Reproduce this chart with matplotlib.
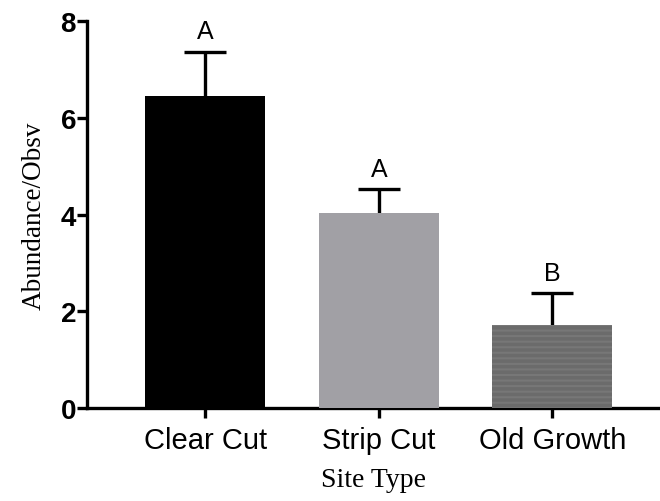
import numpy as np
import matplotlib
matplotlib.use("Agg")
import matplotlib.pyplot as plt

plt.rcParams['hatch.linewidth'] = 1.5

sites = ['Clear Cut', 'Strip Cut', 'Old Growth']
abundance = [6.45, 4.03, 1.72]
sem = [0.92, 0.50, 0.66]
letters = ['A', 'A', 'B']
bar_colors = ['#000000', '#a1a0a5', '#6b6b6b']

fig = plt.figure(figsize=(6.6, 5.02), dpi=100)
ax = fig.add_axes([0.132, 0.185, 0.868, 0.771])

x = np.arange(len(sites))
bars = ax.bar(x, abundance, width=0.69, color=bar_colors, linewidth=0, zorder=3)
# old growth bar has faint horizontal stripes
bars[2].set_hatch('---')
bars[2].set_edgecolor('#777777')

_, caps, _ = ax.errorbar(x, abundance, yerr=[[0] * len(sem), sem], fmt='none',
                         ecolor='black', elinewidth=2.4, capsize=15,
                         capthick=2.4, zorder=2)
caps[0].set_visible(False)  # only the upper half is shown

for xi, top, lab in zip(x, np.add(abundance, sem), letters):
    ax.annotate(lab, (xi, top), xytext=(0, 6), textcoords='offset points',
                ha='center', va='bottom', fontsize=18, family='Liberation Sans')

ax.set_xlim(-0.68, 2.62)
ax.set_ylim(0, 8)
ax.set_yticks([0, 2, 4, 6, 8])
ax.set_xticks(x)
ax.set_xticklabels(sites, fontsize=21, family='Liberation Sans')
for t in ax.get_yticklabels():
    t.set_fontsize(20)
    t.set_fontweight('bold')
    t.set_family('Liberation Sans')

for s in ['top', 'right']:
    ax.spines[s].set_visible(False)
for s in ['left', 'bottom']:
    ax.spines[s].set_linewidth(2.4)
ax.tick_params(axis='both', width=2.4, length=7)
ax.tick_params(axis='y', pad=1)
ax.tick_params(axis='x', pad=6)

ax.set_ylabel('Abundance/Obsv', fontsize=19.5, family='Liberation Serif', labelpad=10)
ax.set_xlabel('Site Type', fontsize=20, family='Liberation Serif', labelpad=9)

fig.savefig('out.png', dpi=100)
